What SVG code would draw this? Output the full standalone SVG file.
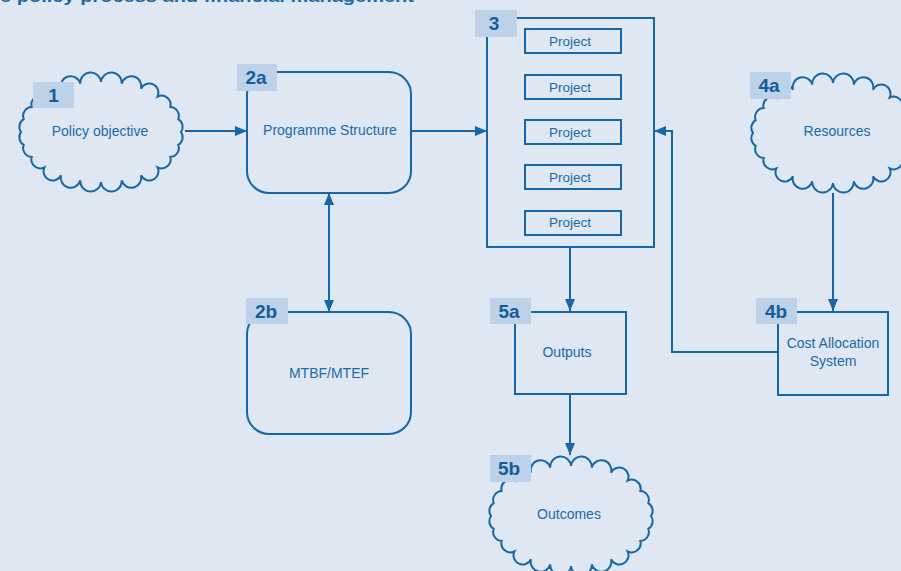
<svg xmlns="http://www.w3.org/2000/svg" width="901" height="571" viewBox="0 0 901 571">
<style>
.ln{fill:none;stroke:#1767a8;stroke-width:2}
.bx{fill:none;stroke:#1767a8;stroke-width:2}
.lb{fill:#bdd1e8}
.lt{font-family:"Liberation Sans",Arial,sans-serif;font-weight:bold;font-size:19px;fill:#155c99;text-anchor:middle}
.tx{font-family:"Liberation Sans",Arial,sans-serif;font-size:14px;fill:#1a6aa8;text-anchor:middle}
.pj{font-family:"Liberation Sans",Arial,sans-serif;font-size:13.5px;fill:#1a6aa8;text-anchor:middle}
</style>
<defs>
<marker id="ah" viewBox="0 0 12 10" refX="12" refY="5" markerWidth="12" markerHeight="10" markerUnits="userSpaceOnUse" orient="auto-start-reverse">
<path d="M0,0 L12,5 L0,10 Z" fill="#1767a8"/>
</marker>
<path id="cloud" d="M80,0 A9,9 0 0 1 77.3,12.9 A9,9 0 0 1 69.3,25 A9,9 0 0 1 56.6,35.4 A9,9 0 0 1 40,43.3 A9,9 0 0 1 20.7,48.3 A9,9 0 0 1 0,50 A9,9 0 0 1 -20.7,48.3 A9,9 0 0 1 -40,43.3 A9,9 0 0 1 -56.6,35.4 A9,9 0 0 1 -69.3,25 A9,9 0 0 1 -77.3,12.9 A9,9 0 0 1 -80,0 A9,9 0 0 1 -77.3,-12.9 A9,9 0 0 1 -69.3,-25 A9,9 0 0 1 -56.6,-35.4 A9,9 0 0 1 -40,-43.3 A9,9 0 0 1 -20.7,-48.3 A9,9 0 0 1 0,-50 A9,9 0 0 1 20.7,-48.3 A9,9 0 0 1 40,-43.3 A9,9 0 0 1 56.6,-35.4 A9,9 0 0 1 69.3,-25 A9,9 0 0 1 77.3,-12.9 A9,9 0 0 1 80,0 Z" fill="none" stroke="#1767a8" stroke-width="2"/>
</defs>
<rect width="901" height="571" fill="#dfe7f2"/>
<text x="0" y="2" font-family="'Liberation Sans',Arial,sans-serif" font-weight="bold" font-size="17" fill="#1a6aa8" textLength="414" lengthAdjust="spacingAndGlyphs">e policy process and financial management</text>

<g id="connectors">
<line class="ln" x1="185" y1="131" x2="247" y2="131" marker-end="url(#ah)"/>
<line class="ln" x1="411" y1="131" x2="487" y2="131" marker-end="url(#ah)"/>
<polyline class="ln" points="778,352 672,352 672,131 654,131" marker-end="url(#ah)"/>
<line class="ln" x1="570" y1="247" x2="570" y2="311" marker-end="url(#ah)"/>
<line class="ln" x1="570" y1="395" x2="570" y2="455" marker-end="url(#ah)"/>
<line class="ln" x1="833" y1="193" x2="833" y2="311" marker-end="url(#ah)"/>
<line class="ln" x1="329" y1="193" x2="329" y2="312" marker-start="url(#ah)" marker-end="url(#ah)"/>
</g>

<g id="n1">
<use href="#cloud" x="101" y="132"/>
<rect class="lb" x="33" y="82" width="41" height="26"/>
<text class="lt" x="53.5" y="102">1</text>
<text class="tx" x="100" y="136">Policy objective</text>
</g>

<g id="n2a">
<rect class="bx" x="247" y="72" width="164" height="121" rx="22"/>
<rect class="lb" x="237" y="64" width="40" height="27"/>
<text class="lt" x="256" y="84">2a</text>
<text class="tx" x="330" y="135">Programme Structure</text>
</g>

<g id="n2b">
<rect class="bx" x="247" y="312" width="164" height="122" rx="22"/>
<rect class="lb" x="246" y="298" width="42" height="26"/>
<text class="lt" x="266" y="318">2b</text>
<text class="tx" x="329" y="378">MTBF/MTEF</text>
</g>

<g id="n3">
<rect class="bx" x="487" y="18" width="167" height="229"/>
<rect class="lb" x="475" y="10" width="42" height="27"/>
<text class="lt" x="494" y="30">3</text>
<rect class="bx" x="525" y="29" width="96" height="24"/>
<text class="pj" x="570" y="46">Project</text>
<rect class="bx" x="525" y="75" width="96" height="24"/>
<text class="pj" x="570" y="92">Project</text>
<rect class="bx" x="525" y="120" width="96" height="24"/>
<text class="pj" x="570" y="137">Project</text>
<rect class="bx" x="525" y="165" width="96" height="24"/>
<text class="pj" x="570" y="182">Project</text>
<rect class="bx" x="525" y="211" width="96" height="24"/>
<text class="pj" x="570" y="227">Project</text>
</g>

<g id="n4a">
<use href="#cloud" x="833" y="133"/>
<rect class="lb" x="750" y="72" width="41" height="27"/>
<text class="lt" x="769" y="92">4a</text>
<text class="tx" x="837" y="136">Resources</text>
</g>

<g id="n4b">
<rect class="bx" x="778" y="312" width="110" height="83"/>
<rect class="lb" x="756" y="298" width="41" height="26"/>
<text class="lt" x="776" y="318">4b</text>
<text class="tx" x="833" y="348">Cost Allocation</text>
<text class="tx" x="833" y="366">System</text>
</g>

<g id="n5a">
<rect class="bx" x="515" y="312" width="111" height="82"/>
<rect class="lb" x="490" y="298" width="41" height="26"/>
<text class="lt" x="509" y="318">5a</text>
<text class="tx" x="567" y="357">Outputs</text>
</g>

<g id="n5b">
<use href="#cloud" x="571" y="516"/>
<rect class="lb" x="490" y="455" width="41" height="27"/>
<text class="lt" x="509" y="475">5b</text>
<text class="tx" x="569" y="519">Outcomes</text>
</g>
</svg>
